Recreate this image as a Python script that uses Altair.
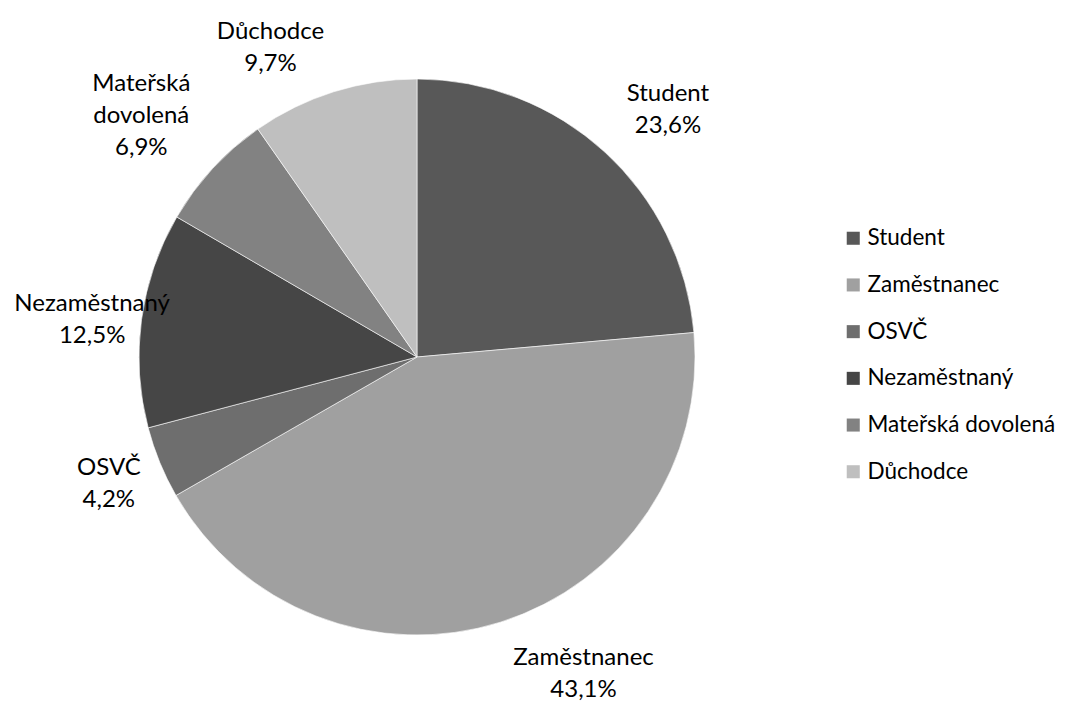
import altair as alt
import pandas as pd

categories = ["Student", "Zaměstnanec", "OSVČ", "Nezaměstnaný", "Mateřská dovolená", "Důchodce"]
label_names = ["Student", "Zaměstnanec", "OSVČ", "Nezaměstnaný", "Mateřská\ndovolená", "Důchodce"]
values = [23.6, 43.1, 4.2, 12.5, 6.9, 9.7]
colors = ["#585858", "#a0a0a0", "#6e6e6e", "#464646", "#828282", "#bfbfbf"]

df = pd.DataFrame({
    "cat": categories,
    "value": values,
    "order": list(range(len(categories))),
    "label": [f"{n}\n{str(v).replace('.', ',')}%" for n, v in zip(label_names, values)],
})

FONT = "Lato"
CX, CY = 409, 349
R = 278

base = alt.Chart(df).encode(
    theta=alt.Theta("value:Q", stack=True),
    order=alt.Order("order:Q"),
    x=alt.value(CX),
    y=alt.value(CY),
)

pie = base.mark_arc(outerRadius=R, stroke="white", strokeWidth=0.6).encode(
    color=alt.Color(
        "cat:N",
        scale=alt.Scale(domain=categories, range=colors),
        sort=categories,
        legend=alt.Legend(
            title=None,
            orient="none",
            legendX=834,
            legendY=219,
            symbolType="square",
            symbolSize=170,
            symbolStrokeWidth=0,
            labelFont=FONT,
            labelFontSize=22.5,
            labelColor="#000000",
            labelLimit=400,
            rowPadding=23.7,
            labelOffset=3,
        ),
    )
)

# label nudges (style) per category
nudges = {
    "Student": (18, -9),
    "Zaměstnanec": (63, -28),
    "OSVČ": (11, -20),
    "Nezaměstnaný": (17, -7),
    "Mateřská dovolená": (-22, -39),
    "Důchodce": (-43, 4),
}

layers = [pie]
for c in categories:
    dx, dy = nudges[c]
    layers.append(
        base.mark_text(
            radius=345, font=FONT, fontSize=24, lineBreak="\n", lineHeight=32,
            align="center", baseline="middle", color="#000000", dx=dx, dy=dy,
        ).encode(
            text=alt.condition(alt.datum.cat == c, "label:N", alt.value("")),
        )
    )

chart = alt.layer(*layers).properties(
    width=1060, height=694, autosize=alt.AutoSizeParams(type="none"), padding=0,
).configure_view(stroke=None)

chart.save("out.html", embed_options={"renderer": "svg", "actions": False})
